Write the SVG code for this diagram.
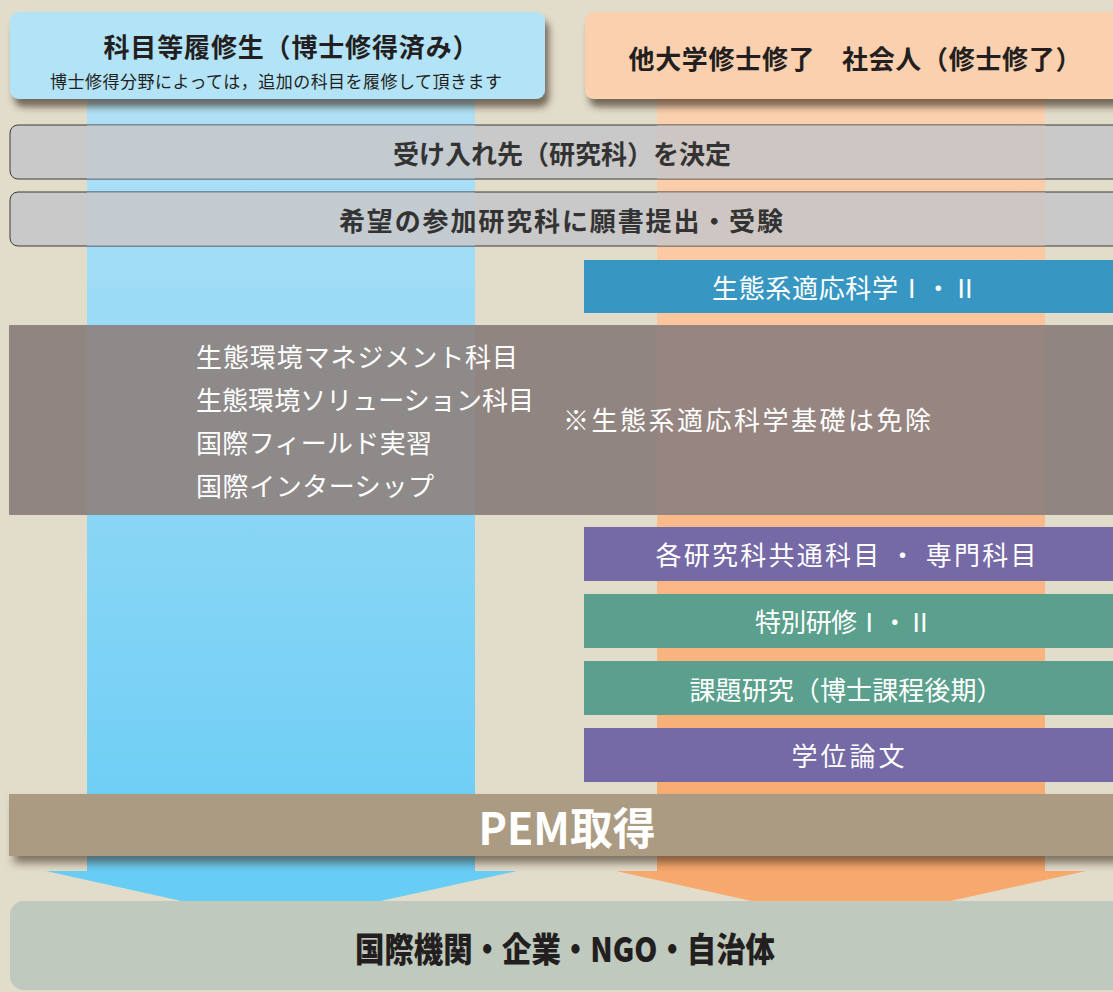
<svg xmlns="http://www.w3.org/2000/svg" width="1113" height="992" viewBox="0 0 1113 992">
<defs>
<linearGradient id="gBlue" x1="0" y1="0" x2="0" y2="1"><stop offset="0" stop-color="#b0e1f6"/><stop offset="1" stop-color="#69cdf5"/></linearGradient>
<linearGradient id="gOrange" x1="0" y1="0" x2="0" y2="1"><stop offset="0" stop-color="#fcd2b2"/><stop offset="1" stop-color="#f7a86c"/></linearGradient>
<filter id="shadow" x="-5%" y="-20%" width="115%" height="160%"><feDropShadow dx="4" dy="8" stdDeviation="3.5" flood-color="#3a2a1a" flood-opacity="0.65"/></filter>
<filter id="shadow2" x="-5%" y="-20%" width="115%" height="160%"><feDropShadow dx="5" dy="7" stdDeviation="4" flood-color="#3a2a1a" flood-opacity="0.6"/></filter>
<style>
text{font-family:"Noto Sans CJK JP","Noto Sans",sans-serif;dominant-baseline:central;text-anchor:middle}
.dark{fill:#231f20;font-weight:700;font-size:26px}
.gray{fill:#333333;font-weight:700;font-size:26px}
.w{fill:#ffffff;font-weight:400;font-size:26px}
.wl{fill:#ffffff;font-weight:400;font-size:26px;text-anchor:start}
.grayBox{fill:#c9c9c9;stroke:#3a3a3a;stroke-width:1}
</style>
</defs>
<rect width="1113" height="992" fill="#e2dccb"/>
<g id="columns">
<rect x="87" y="90" width="388" height="781" fill="url(#gBlue)"/>
<polygon points="46,871 517,871 281,923" fill="#68cdf5"/>
<rect x="657" y="90" width="388" height="781" fill="url(#gOrange)"/>
<polygon points="616,871 1086,871 851,923" fill="#f7a86d"/>
</g>
<g id="node-kamoku">
<rect x="10" y="12" width="535" height="87" rx="9" fill="#b3e3f7" filter="url(#shadow)"/>
<text class="dark" x="291" y="45" textLength="375">科目等履修生（博士修得済み）</text>
<text x="276" y="80" style="fill:#231f20;font-size:17px;font-weight:400" textLength="452">博士修得分野によっては，追加の科目を履修して頂きます</text>
</g>
<g id="node-tadaigaku">
<rect x="585" y="12" width="540" height="87" rx="9" fill="#fbd0af" filter="url(#shadow)"/>
<text class="dark" x="855" y="57" textLength="453">他大学修士修了　社会人（修士修了）</text>
</g>
<g id="node-ukeire">
<rect class="grayBox" x="10" y="125" width="1120" height="54" rx="8"/>
<rect x="87" y="125.5" width="388" height="53" fill="#c4cbd0"/>
<rect x="657" y="125.5" width="388" height="53" fill="#cdc6c2"/>
<text class="gray" x="562" y="152" textLength="338">受け入れ先（研究科）を決定</text>
</g>
<g id="node-gansho">
<rect class="grayBox" x="10" y="192" width="1120" height="54" rx="8"/>
<rect x="87" y="192.5" width="388" height="53" fill="#c4cbd0"/>
<rect x="657" y="192.5" width="388" height="53" fill="#cdc6c2"/>
<text class="gray" x="561" y="219" textLength="444">希望の参加研究科に願書提出・受験</text>
</g>
<g id="node-tekiou">
<rect x="584" y="260" width="540" height="53" fill="#3797c2"/>
<text class="w" x="845" y="286" textLength="266">生態系適応科学Ⅰ・Ⅱ</text>
</g>
<g id="node-kankyo">
<rect x="9" y="325" width="1110" height="190" fill="#918581"/>
<rect x="87" y="325" width="388" height="190" fill="#8e8a89"/>
<rect x="657" y="325" width="388" height="190" fill="#968580"/>
<text class="wl" x="196" y="355" textLength="322">生態環境マネジメント科目</text>
<text class="wl" x="196" y="398" textLength="338">生態環境ソリューション科目</text>
<text class="wl" x="196" y="441" textLength="236">国際フィールド実習</text>
<text class="wl" x="196" y="484" textLength="238">国際インターシップ</text>
<text class="wl" x="563" y="418" textLength="368">※生態系適応科学基礎は免除</text>
</g>
<g id="node-kyotsu">
<rect x="584" y="527" width="540" height="54" fill="#7569a6"/>
<text class="w" x="846" y="553" textLength="381">各研究科共通科目 ・ 専門科目</text>
</g>
<g id="node-tokubetsu">
<rect x="584" y="594" width="540" height="54" fill="#5aa08d"/>
<text class="w" x="844" y="620" textLength="178">特別研修Ⅰ・Ⅱ</text>
</g>
<g id="node-kadai">
<rect x="584" y="661" width="540" height="54" fill="#5aa08d"/>
<text class="w" x="846" y="688" textLength="313">課題研究（博士課程後期）</text>
</g>
<g id="node-gakui">
<rect x="584" y="728" width="540" height="54" fill="#7569a6"/>
<text class="w" x="848" y="754" textLength="113">学位論文</text>
</g>
<g id="node-pem">
<rect x="9" y="794" width="1115" height="62" fill="#ac9b83" filter="url(#shadow2)"/>
<text x="567" y="826" style="fill:#ffffff;font-weight:700;font-size:44px" textLength="177" lengthAdjust="spacingAndGlyphs">PEM取得</text>
</g>
<g id="node-shushoku">
<rect x="10" y="901" width="1120" height="89" rx="14" fill="#c0c9bd"/>
<text x="565" y="947" style="fill:#231f20;font-weight:900;font-size:34px" textLength="420" lengthAdjust="spacingAndGlyphs">国際機関・企業・NGO・自治体</text>
</g>
<g id="connectors"></g>
</svg>
